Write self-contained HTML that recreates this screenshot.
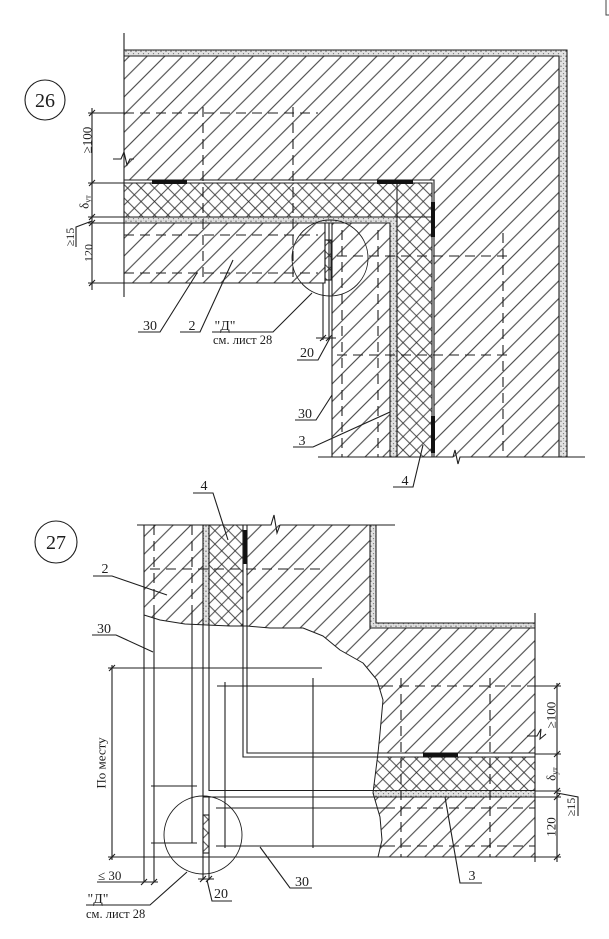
<!DOCTYPE html>
<html><head><meta charset="utf-8"><style>
html,body{margin:0;padding:0;background:#fff;}
svg{display:block;}
text{font-family:"Liberation Serif","DejaVu Serif",serif;fill:#1e1e1e;}
</style></head><body>
<svg width="609" height="939" viewBox="0 0 609 939" xmlns="http://www.w3.org/2000/svg">
<defs>
<pattern id="h" patternUnits="userSpaceOnUse" width="12.5" height="12.5" patternTransform="rotate(-45)"><line x1="-1" y1="6.25" x2="13.5" y2="6.25" stroke="#2a2a2a" stroke-width="0.95"/></pattern>
<pattern id="x" patternUnits="userSpaceOnUse" width="9.5" height="9.5" patternTransform="rotate(45)"><line x1="-1" y1="4.75" x2="10.5" y2="4.75" stroke="#2a2a2a" stroke-width="0.85"/><line x1="4.75" y1="-1" x2="4.75" y2="10.5" stroke="#2a2a2a" stroke-width="0.85"/></pattern>
<pattern id="s" patternUnits="userSpaceOnUse" width="5" height="5"><rect width="5" height="5" fill="#e2e2e2"/><circle cx="1" cy="1.2" r="0.7" fill="#666"/><circle cx="3.5" cy="3.6" r="0.6" fill="#777"/><circle cx="3.8" cy="0.8" r="0.4" fill="#999"/></pattern>
<clipPath id="vis"><path d="M137,495H600V870H378L378,857L382,840L380,817L373,793L375,777L378,753L380,733L383,700L377,680L363,663L340,650L323,636L303,628L270,628L247,626L230,626L207,625L185,624L160,620L144,615L137,615Z"/></clipPath>
</defs>

<!-- frame corner -->
<path d="M606,0V15H609" fill="none" stroke="#444" stroke-width="1"/>

<!-- ===================== 26 ===================== -->
<path d="M124,56H559V457H434V180H124Z" fill="url(#h)"/>
<rect x="124" y="223" width="201" height="60" fill="url(#h)"/>
<rect x="332" y="223" width="58" height="234" fill="url(#h)"/>
<path d="M124,183H432V457H397V217H124Z" fill="url(#x)"/>
<path d="M124,50H567V457H559V56H124Z" fill="url(#s)"/>
<path d="M124,217H397V457H390V223H124Z" fill="url(#s)"/>
<rect x="325" y="240" width="6" height="40" fill="url(#x)"/>

<g fill="none" stroke="#1e1e1e" stroke-width="1.1">
<path d="M124,33V297"/>
<path d="M124,50H567V457"/>
<path d="M124,56H559V457"/>
<path d="M124,180H434V457"/>
<path d="M124,183H432V457"/>
<path d="M124,217H432"/>
<path d="M397,183V457"/>
<path d="M124,223H390V457"/>
<path d="M88,283H325V223"/>
<path d="M329,223V340"/>
<path d="M332,223V457"/>
<path d="M323,283V340"/>
<path d="M318,457H453L455,450L458,464L460,457H585"/>
<rect x="325" y="240" width="6" height="40"/>
<!-- dims -->
<path d="M92,108V290"/>
<path d="M88,113H124M88,183H124M88,217H124M88,223H124"/>
<path d="M89,116L95,110M89,186L95,180M89,220L95,214M89,226L95,220M89,286L95,280"/>
<path d="M113,159H121L124,152L127,165L130,159H134"/>
<path d="M316,338H336M320,341L326,335M326,341L332,335"/>
<path d="M92,221L76,227V247"/>
<!-- circles -->
<circle cx="45" cy="100" r="20"/>
<circle cx="330" cy="258" r="38" stroke-width="0.9"/>
<!-- leaders -->
<path d="M138,332H160L197,273"/>
<path d="M180,332H200L233,260"/>
<path d="M212,332H273L312,293"/>
<path d="M297,360H318L330,338"/>
<path d="M295,420H316L332,395"/>
<path d="M293,447H313L390,412"/>
<path d="M393,487H413L423,445"/>
</g>
<g fill="none" stroke="#1e1e1e" stroke-width="1.1" stroke-dasharray="10 6">
<path d="M124,113H318"/>
<path d="M203,107V277"/>
<path d="M293,107V277"/>
<path d="M124,235H318"/>
<path d="M124,273H318"/>
<path d="M342,230V457"/>
<path d="M378,230V457"/>
<path d="M337,256H510"/>
<path d="M337,355H510"/>
<path d="M503,233V457"/>
</g>
<g fill="#111">
<rect x="152" y="179.5" width="35" height="4.5"/>
<rect x="377" y="179.5" width="36" height="4.5"/>
<rect x="431" y="202" width="4" height="35"/>
<rect x="431" y="416" width="4" height="37"/>
</g>

<text x="45" y="107" font-size="20" text-anchor="middle">26</text>
<text x="87" y="144.5" font-size="13" text-anchor="middle" transform="rotate(-90 87 140)">≥100</text>
<text x="84" y="206.5" font-size="13" text-anchor="middle" transform="rotate(-90 84 202)">δ<tspan font-size="8" dy="2">ут</tspan></text>
<text x="70" y="241" font-size="12" text-anchor="middle" transform="rotate(-90 70 237)">≥15</text>
<text x="88" y="257.5" font-size="12" text-anchor="middle" transform="rotate(-90 88 253)">120</text>
<text x="150" y="330" font-size="14" text-anchor="middle">30</text>
<text x="192" y="330" font-size="14" text-anchor="middle">2</text>
<text x="225" y="330" font-size="14" text-anchor="middle">"Д"</text>
<text x="213" y="344" font-size="12.5">см. лист 28</text>
<text x="307" y="357" font-size="14" text-anchor="middle">20</text>
<text x="305" y="418" font-size="14" text-anchor="middle">30</text>
<text x="302" y="445" font-size="14" text-anchor="middle">3</text>
<text x="405" y="485" font-size="14" text-anchor="middle">4</text>

<!-- ===================== 27 ===================== -->
<g clip-path="url(#vis)">
<rect x="144" y="525" width="59" height="110" fill="url(#h)"/>
<path d="M247,525H370V628H535V753H247Z" fill="url(#h)"/>
<rect x="300" y="797" width="235" height="60" fill="url(#h)"/>
<path d="M209,525H243V757H535V791H209Z" fill="url(#x)"/>
<path d="M203,525H209V791H535V797H203Z" fill="url(#s)"/>
<g fill="none" stroke="#1e1e1e" stroke-width="1.1" stroke-dasharray="10 6">
<path d="M154,525V615"/>
<path d="M192,525V615"/>
<path d="M150,569H323"/>
</g>
</g>
<path d="M370,525H376V623H535V628H370Z" fill="url(#s)"/>
<rect x="203" y="815" width="6" height="38" fill="url(#x)"/>

<g fill="none" stroke="#1e1e1e" stroke-width="1.1">
<path d="M137,525H271L274,515L277,533L280,525H395"/>
<path d="M144,525V882"/>
<path d="M154,615V882"/>
<path d="M192,615V843"/>
<path d="M203,525V880"/>
<path d="M209,525V790.5H535"/>
<path d="M209,797V880"/>
<path d="M203,797H535"/>
<path d="M243,525V757H535"/>
<path d="M247,525V753H535"/>
<path d="M370,525V628H535"/>
<path d="M376,525V623H535"/>
<path d="M535,613V862"/>
<path d="M527,736H537L541,729L540,739L546,734"/>
<path d="M108,857H535"/>
<path d="M144,615L160,620L185,624L207,625L230,626L247,626L270,628L303,628L323,636L340,650L363,663L377,680L383,700L380,733L378,753L375,777L373,793L380,817L382,840L378,857" stroke-width="1" stroke-linejoin="round"/>
<path d="M152,668H322"/>
<path d="M217,686H383"/>
<path d="M225,682V848"/>
<path d="M313,678V848"/>
<path d="M151,786H197"/>
<path d="M151,843H197"/>
<path d="M216,808H385"/>
<path d="M216,846H385"/>
<rect x="203" y="815" width="6" height="38"/>
<circle cx="56" cy="542" r="21"/>
<circle cx="203" cy="835" r="39" stroke-width="0.9"/>
<!-- dims -->
<path d="M557,683V862"/>
<path d="M535,686H561M535,754H561M535,791H561M535,797H561M535,857H561"/>
<path d="M554,689L560,683M554,757L560,751M554,794L560,788M554,800L560,794M554,860L560,854"/>
<path d="M557,793L578,797V816"/>
<path d="M112,665V860"/>
<path d="M108,668H152"/>
<path d="M109,671L115,665M109,860L115,854"/>
<path d="M97,882H158"/>
<path d="M141,885L147,879M151,885L157,879"/>
<path d="M198,879H214M200,882L206,876M206,882L212,876"/>
<!-- leaders -->
<path d="M193,493H213L228,540"/>
<path d="M93,576H112L167,595"/>
<path d="M92,635H116L153,652"/>
<path d="M86,905H150L187,872"/>
<path d="M232,901H212L207,880"/>
<path d="M312,888H290L260,847"/>
<path d="M482,883H460L445,797"/>
</g>
<g fill="none" stroke="#1e1e1e" stroke-width="1.1" stroke-dasharray="10 6">
<path d="M383,686H535"/>
<path d="M385,808H535"/>
<path d="M385,846H535"/>
<path d="M401,678V857"/>
<path d="M490,678V857"/>
</g>
<g fill="#111">
<rect x="243.5" y="530" width="3.5" height="34"/>
<rect x="423" y="752.5" width="35" height="5"/>
</g>

<text x="56" y="549" font-size="20" text-anchor="middle">27</text>
<text x="204" y="490" font-size="14" text-anchor="middle">4</text>
<text x="105" y="573" font-size="14" text-anchor="middle">2</text>
<text x="104" y="633" font-size="14" text-anchor="middle">30</text>
<text x="101" y="767.5" font-size="13" text-anchor="middle" transform="rotate(-90 101 763)">По месту</text>
<text x="98" y="880" font-size="13">≤ 30</text>
<text x="98" y="903" font-size="14" text-anchor="middle">"Д"</text>
<text x="86" y="918" font-size="12.5">см. лист 28</text>
<text x="221" y="898" font-size="14" text-anchor="middle">20</text>
<text x="302" y="886" font-size="14" text-anchor="middle">30</text>
<text x="472" y="880" font-size="14" text-anchor="middle">3</text>
<text x="551" y="719.5" font-size="13" text-anchor="middle" transform="rotate(-90 551 715)">≥100</text>
<text x="551" y="778.5" font-size="13" text-anchor="middle" transform="rotate(-90 551 774)">δ<tspan font-size="8" dy="2">ут</tspan></text>
<text x="551" y="831.5" font-size="13" text-anchor="middle" transform="rotate(-90 551 827)">120</text>
<text x="571" y="811" font-size="12" text-anchor="middle" transform="rotate(-90 571 807)">≥15</text>
</svg>
</body></html>
